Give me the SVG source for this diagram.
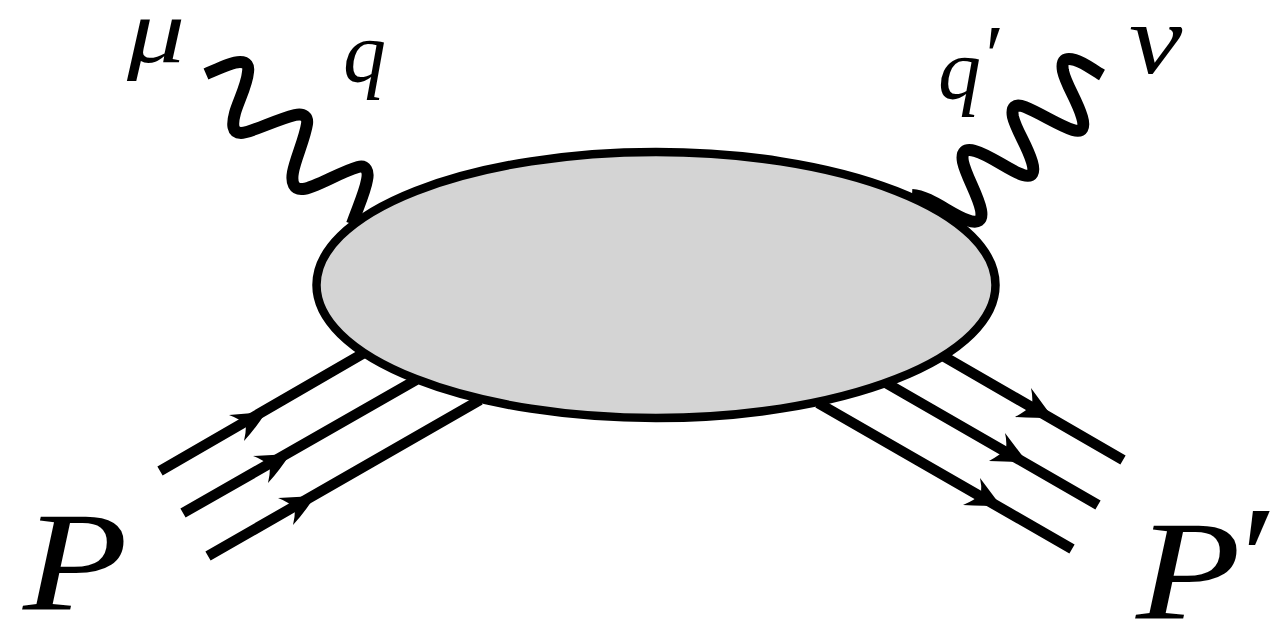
<svg xmlns="http://www.w3.org/2000/svg" width="1275" height="632" viewBox="0 0 1275 632">
<style>
.ln{fill:none;stroke:#000;stroke-width:10.500;stroke-linecap:butt}
.wv{fill:none;stroke:#000;stroke-width:12;stroke-linecap:butt;stroke-linejoin:round}
.hd{fill:#000;stroke:none}
.t{font-family:"Liberation Serif","Times New Roman",serif;font-style:italic;fill:#000}
</style>
<rect width="1275" height="632" fill="#fff"/>
<g id="connectors">
<path class="ln" d="M160 471L364 353M183 513L416 380M208 556L480 400"/>
<path class="ln" d="M1123 460L943 356M1098 505L886 383M1072 549L818 403"/>
<path class="hd" d="M266 412L229 415Q240 419 246 425Q246 432 244 441Q256 428 266 412Z"/>
<path class="hd" d="M290 454L253 456Q264 460 270 467Q270 474 268 483Q280 470 290 454Z"/>
<path class="hd" d="M315 496L278 498Q289 502 295 509Q295 516 293 525Q305 512 315 496Z"/>
<path class="hd" d="M1053 418L1031 388Q1033 397 1032 405Q1026 411 1015 417Q1036 418 1053 418Z"/>
<path class="hd" d="M1027 462L1005 433Q1007 441 1006 449Q1000 455 989 461Q1010 462 1027 462Z"/>
<path class="hd" d="M1001 506L980 478Q982 486 981 494Q975 500 963 505Q984 506 1001 506Z"/>
<path class="wv" d="M206 74C222 67 232 62 240 62C247 62 249 66 248 72C247 85 238 102 235 113C232 124 232 133 241 133C250 133 275 120 295 115C304 113 308 117 307 124C305 138 295 160 293 172C291 183 294 190 303 189C315 188 340 172 358 167C366 165 369 171 367 180C365 192 358 207 352 224"/>
<path class="wv" d="M912 195C930 196 950 214 967 220C978 224 983 221 981 210C978 195 966 176 963 162C961 152 965 148 975 151C990 155 1010 171 1023 175C1033 178 1035 172 1032 162C1027 145 1016 130 1013 117C1011 107 1015 103 1025 107C1040 113 1060 126 1073 130C1083 133 1085 127 1082 117C1077 100 1066 85 1063 71C1061 60 1065 57 1075 60C1085 63 1093 70 1102 75"/>
</g>
<g id="blob"><ellipse cx="656" cy="285" rx="339.500" ry="133" fill="#d4d4d4" stroke="#000" stroke-width="8.500"/></g>
<g id="labels">
<text class="t" transform="translate(127 62) scale(1.26 1)" font-size="92">μ</text>
<text class="t" x="343" y="81" font-size="86">q</text>
<text class="t" x="938" y="98" font-size="86">q<tspan x="980" y="85" font-size="86">′</tspan></text>
<text class="t" transform="translate(1129 73) scale(1.2 1)" font-size="100">ν</text>
<text class="t" transform="translate(23 610) scale(1.2 1)" font-size="143">P</text>
<text class="t" transform="translate(1136 619) scale(1.2 1)" font-size="143">P<tspan x="78" y="-13" font-size="145">′</tspan></text>
</g>
</svg>
